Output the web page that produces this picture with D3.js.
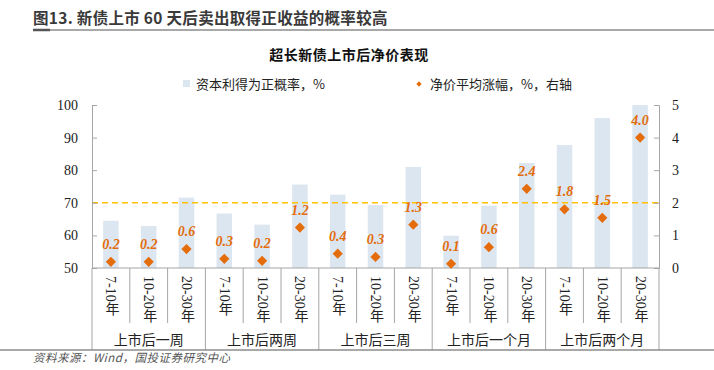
<!DOCTYPE html>
<html><head><meta charset="utf-8">
<script src="https://cdn.jsdelivr.net/npm/d3@7"></script>
<style>
html,body{margin:0;padding:0;background:#fff;}
svg{display:block;}
</style></head>
<body>
<svg id="c" width="714" height="370"></svg>
<script>
const groups = ["上市后一周","上市后两周","上市后三周","上市后一个月","上市后两个月"];
const terms = ["7-10年","10-20年","20-30年"];
const probValues = [64.5,62.9,71.6,66.7,63.3,75.6,72.5,69.3,81.0,59.9,69.1,82.2,87.7,96.0,100];
const priceValues = [0.19,0.19,0.58,0.28,0.22,1.24,0.44,0.34,1.33,0.13,0.64,2.43,1.80,1.54,4.00];
const leftTicks = [50,60,70,80,90,100];
const rightTicks = [0,1,2,3,4,5];
const refLine = 70;

const cats = [];
groups.forEach(g => terms.forEach(t => cats.push({g, t, key: g + "|" + t})));

const svg = d3.select("#c");
const L = 92, R = 659, T = 105, B = 268;
const grey = "#a6a6a6", orange = "#E46C0A", barColor = "#DCE6F1";

// header
svg.append("text").attr("x", 33).attr("y", 24)
  .attr("font-family", "'Noto Sans CJK SC','Noto Sans',sans-serif")
  .attr("font-weight", "bold").attr("font-size", 15.5).attr("fill", "#3a3a3a")
  .attr("letter-spacing", 0.3)
  .text("图13. 新债上市 60 天后卖出取得正收益的概率较高");
svg.append("line").attr("x1", 33).attr("x2", 714).attr("y1", 30).attr("y2", 30)
  .attr("stroke", "#8c8c8c").attr("stroke-width", 1.5);
svg.append("line").attr("x1", 33).attr("x2", 50).attr("y1", 30).attr("y2", 30)
  .attr("stroke", "#555").attr("stroke-width", 2.5);

svg.append("text").attr("x", 349).attr("y", 60).attr("text-anchor", "middle")
  .attr("font-family", "'Noto Sans CJK SC',sans-serif").attr("font-weight", "bold")
  .attr("font-size", 14).attr("fill", "#111").attr("letter-spacing", 0.5)
  .text("超长新债上市后净价表现");

// legend
const lg = svg.append("g").attr("font-family", "'Noto Sans CJK SC',sans-serif").attr("font-size", 13).attr("fill", "#222");
lg.append("rect").attr("x", 183).attr("y", 80).attr("width", 7).attr("height", 7).attr("fill", barColor);
lg.append("text").attr("x", 196).attr("y", 88.5).text("资本利得为正概率，%");
lg.append("path").attr("d", d3.symbol(d3.symbolSquare, 14)()).attr("transform", "translate(419,84) rotate(45)").attr("fill", orange);
lg.append("text").attr("x", 430).attr("y", 88.5).text("净价平均涨幅，%，右轴");

// scales
const x = d3.scaleBand().domain(cats.map(d => d.key)).range([L, R]).paddingInner(0.59).paddingOuter(0.295);
const xb = d3.scaleBand().domain(cats.map(d => d.key)).range([L, R]);
const yL = d3.scaleLinear().domain([50, 100]).range([B, T]);
const yR = d3.scaleLinear().domain([0, 5]).range([B, T]);

// bars
svg.append("g").selectAll("rect").data(cats).join("rect")
  .attr("x", d => x(d.key)).attr("width", x.bandwidth())
  .attr("y", (d, i) => yL(probValues[i])).attr("height", (d, i) => B - yL(probValues[i]))
  .attr("fill", barColor);

// reference dashed line
svg.append("line").attr("x1", L).attr("x2", R).attr("y1", yL(refLine)).attr("y2", yL(refLine))
  .attr("stroke", "#FFC000").attr("stroke-width", 1.5).attr("stroke-dasharray", "6,4");

// axes
const axL = svg.append("g").attr("transform", `translate(${L},0)`)
  .call(d3.axisRight(yL).tickValues(leftTicks).tickSize(5).tickFormat(d3.format("d")));
axL.select(".domain").attr("stroke", grey);
axL.selectAll(".tick line").attr("stroke", grey);
axL.selectAll(".tick text").attr("x", -14).attr("text-anchor", "end")
  .attr("font-family", "'Liberation Serif',serif").attr("font-size", 14).attr("fill", "#222");

const axR = svg.append("g").attr("transform", `translate(${R},0)`)
  .call(d3.axisLeft(yR).tickValues(rightTicks).tickSize(5).tickFormat(d3.format("d")));
axR.select(".domain").attr("stroke", grey);
axR.selectAll(".tick line").attr("stroke", grey);
axR.selectAll(".tick text").attr("x", 13).attr("text-anchor", "start")
  .attr("font-family", "'Liberation Serif',serif").attr("font-size", 14).attr("fill", "#222");

// baseline
svg.append("line").attr("x1", L).attr("x2", R).attr("y1", B).attr("y2", B).attr("stroke", grey).attr("stroke-width", 1.2);

// category separators
const sepG = svg.append("g").attr("stroke", grey);
cats.forEach((d, i) => {
  if (i % 3 !== 0) {
    sepG.append("line").attr("x1", xb(d.key)).attr("x2", xb(d.key)).attr("y1", B).attr("y2", 323);
  }
});
for (let gi = 0; gi <= groups.length; gi++) {
  const xx = gi < groups.length ? xb(cats[gi * 3].key) : R;
  sepG.append("line").attr("x1", xx).attr("x2", xx).attr("y1", B).attr("y2", 350);
}

// category labels (vertical)
svg.append("g").selectAll("text").data(cats).join("text")
  .attr("x", d => xb(d.key) + xb.bandwidth() / 2).attr("y", 276)
  .attr("style", "writing-mode: vertical-rl; text-orientation: mixed;")
  .attr("font-family", "'Liberation Serif','Noto Sans CJK SC',serif")
  .attr("font-size", 14).attr("fill", "#222")
  .text(d => d.t);

// group labels
svg.append("g").selectAll("text").data(groups).join("text")
  .attr("x", (g, gi) => xb(cats[gi * 3].key) + xb.bandwidth() * 1.5).attr("y", 345)
  .attr("text-anchor", "middle")
  .attr("font-family", "'Noto Sans CJK SC',sans-serif").attr("font-size", 14).attr("fill", "#222")
  .text(g => g);

// diamonds
svg.append("g").selectAll("path").data(cats).join("path")
  .attr("d", d3.symbol(d3.symbolSquare, 52)())
  .attr("transform", (d, i) => `translate(${xb(d.key) + xb.bandwidth() / 2},${yR(priceValues[i])}) rotate(45)`)
  .attr("fill", orange);

// value labels
svg.append("g").selectAll("text").data(cats).join("text")
  .attr("x", d => xb(d.key) + xb.bandwidth() / 2)
  .attr("y", (d, i) => yR(priceValues[i]) - 13)
  .attr("text-anchor", "middle")
  .attr("font-family", "'Liberation Serif',serif").attr("font-style", "italic").attr("font-weight", "bold")
  .attr("font-size", 14).attr("fill", orange)
  .text((d, i) => priceValues[i].toFixed(1));

// bottom frame line & source
svg.append("line").attr("x1", 0).attr("x2", 714).attr("y1", 350).attr("y2", 350)
  .attr("stroke", "#8c8c8c").attr("stroke-width", 1.5);
svg.append("text").attr("x", 33).attr("y", 362)
  .attr("font-family", "'Noto Sans CJK SC',sans-serif").attr("font-style", "italic")
  .attr("font-size", 11.5).attr("fill", "#555").attr("letter-spacing", 0.5)
  .text("资料来源：Wind，国投证券研究中心");
</script>
</body></html>
